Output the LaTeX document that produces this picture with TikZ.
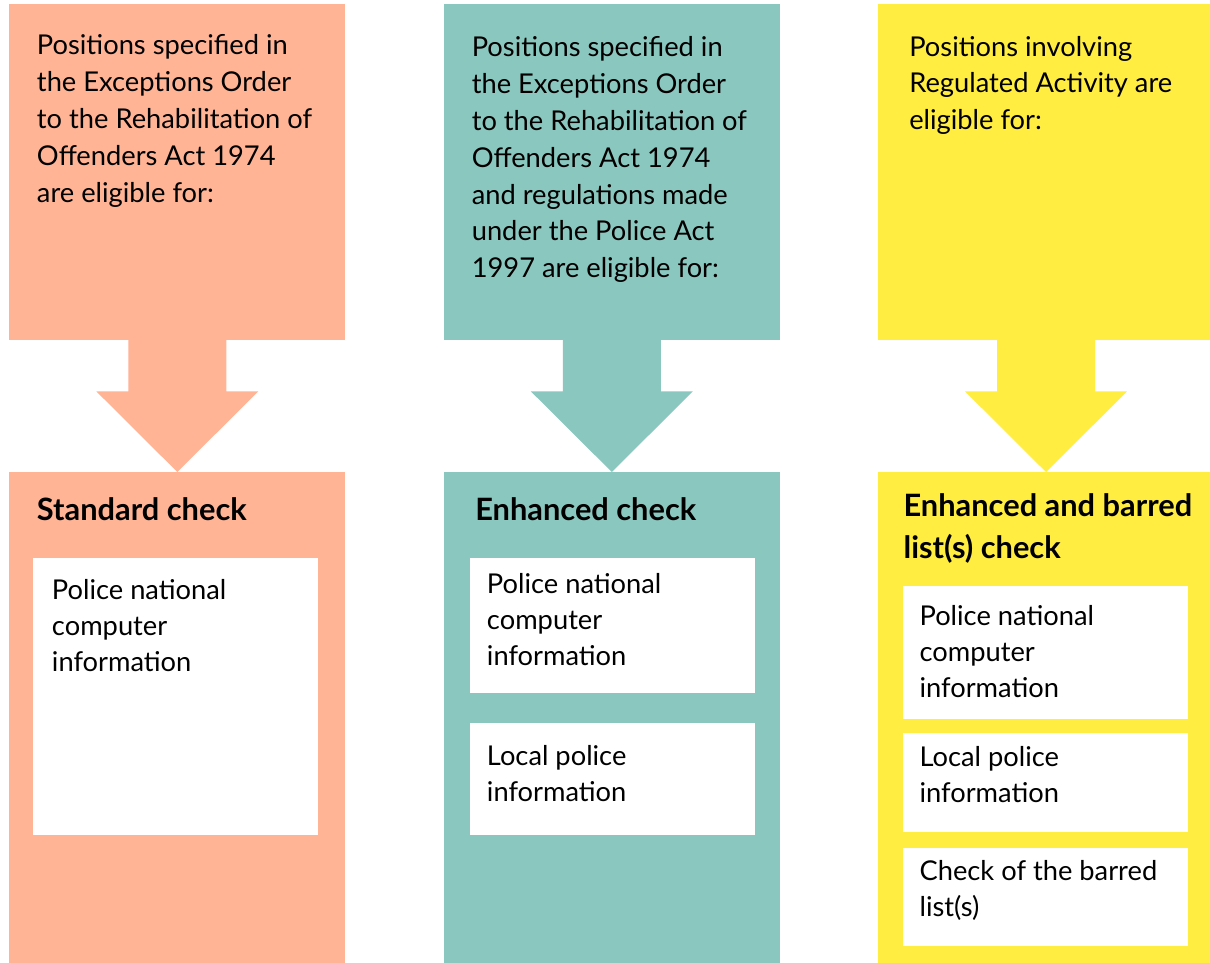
\documentclass[tikz,border=0pt]{standalone}
\usepackage{fontspec}
\setmainfont{Lato}
\usepackage{xcolor}
\definecolor{stdSalmon}{RGB}{255,180,150}
\definecolor{enhTeal}{RGB}{138,199,190}
\definecolor{barYellow}{RGB}{255,237,65}
\usepackage{tikz}
\usetikzlibrary{positioning,calc}
% texts hang from the baseline of their LAST line
\tikzstyle{panel}=[rectangle, draw=none, anchor=north west, inner sep=0pt, minimum width=8.4cm]
\tikzstyle{infobox}=[rectangle, fill=white, anchor=north west, inner sep=0pt, minimum width=7.125cm]
\tikzstyle{lead}=[anchor=base west, align=left, inner sep=0pt, font=\fontsize{19.4}{26.2}\selectfont]
\tikzstyle{heading}=[anchor=base west, align=left, inner sep=0pt, font=\fontsize{21.9}{29.6}\selectfont\bfseries]
\tikzstyle{item}=[anchor=base west, align=left, inner sep=0pt, font=\fontsize{19.4}{25.6}\selectfont]

\begin{document}
\begin{tikzpicture}[x=0.025cm, y=-0.025cm]
    \useasboundingbox (0,0) rectangle (1210,962);
    \clip (0,0) rectangle (1210,962);

    % --- colunas + setas ---
    \foreach \n/\x/\c in {1/9/stdSalmon, 2/443.5/enhTeal, 3/877.7/barYellow} {
      \node[panel, fill=\c, minimum height=8.4cm]  (top\n) at (\x,4) {};
      \node[panel, fill=\c, minimum height=12.7cm] (bot\n) at (\x,472) {};
      \fill[\c] ($(top\n.south)+(-49,-1)$) -- ($(top\n.south)+(49,-1)$)
             -- ($(top\n.south)+(49,50.7)$) -- ($(top\n.south)+(81,50.7)$)
             -- (bot\n.north)
             -- ($(top\n.south)+(-81,50.7)$) -- ($(top\n.south)+(-49,50.7)$) -- cycle;
    }

    % --- quem pode pedir ---
    \node[lead] (elig1) at (36.7,202.3)
      {Positions specified in\\the Exceptions Order\\to the Rehabilitation of\\Offenders Act 1974\\are eligible for:};
    \node[lead] (elig2) at (471.5,277.7)
      {Positions specified in\\the Exceptions Order\\to the Rehabilitation of\\Offenders Act 1974\\and regulations made\\under the Police Act\\1997 are eligible for:};
    \node[lead] (elig3) at (909,129.7)
      {Positions involving\\Regulated Activity are\\eligible for:};

    % --- tipo de verificacao ---
    \node[heading] (head1) at (36.7,520) {Standard check};
    \node[heading] (head2) at (475,520)  {Enhanced check};
    \node[heading] (head3) at (903.3,558.3) {Enhanced and barred\\list(s) check};

    % --- caixas brancas ---
    \node[infobox, minimum height=6.925cm] (pnc1) at (33,558) {};
    \node[infobox, minimum height=3.375cm] (pnc2) at (469.5,558) {};
    \node[infobox, minimum height=2.8cm]   (loc2) at (469.5,723) {};
    \node[infobox, minimum height=3.325cm] (pnc3) at (902.3,586) {};
    \node[infobox, minimum height=2.475cm] (loc3) at (902.3,733) {};
    \node[infobox, minimum height=2.45cm]  (bar3) at (902.3,848) {};

    \node[item] (pnctxt1) at (51.7,671.3)  {Police national\\computer\\information};
    \node[item] (pnctxt2) at (486.7,665.3) {Police national\\computer\\information};
    \node[item] (loctxt2) at (486.7,801)   {Local police\\information};
    \node[item] (pnctxt3) at (919.3,697)   {Police national\\computer\\information};
    \node[item] (loctxt3) at (919.3,802)   {Local police\\information};
    \node[item] (bartxt3) at (919.3,916)   {Check of the barred\\list(s)};
  \end{tikzpicture}
\end{document}
